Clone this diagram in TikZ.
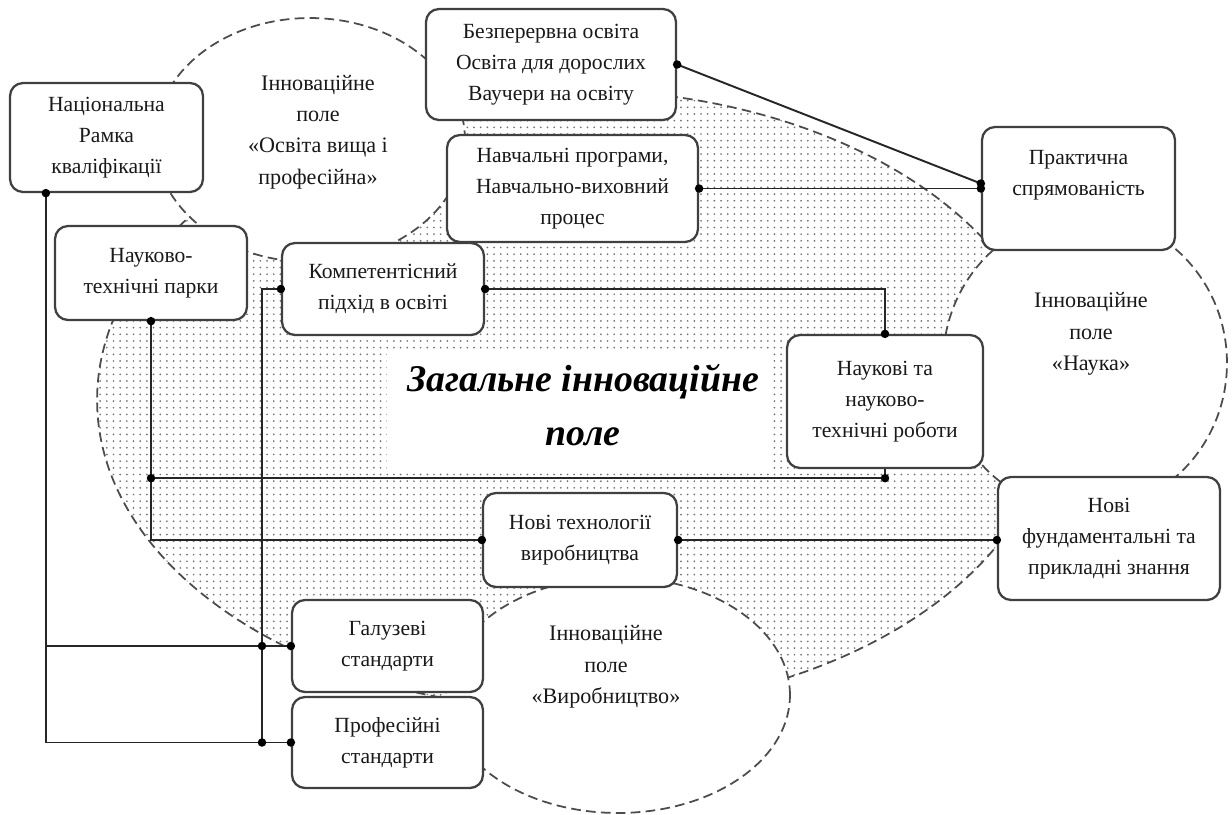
\documentclass[tikz,border=0pt]{standalone}
\usepackage{fontspec}
\setmainfont{Liberation Serif}
\usetikzlibrary{patterns,calc}
\pgfdeclarepatternformonly{fielddots}{\pgfqpoint{-1pt}{-1pt}}{\pgfqpoint{3pt}{3pt}}{\pgfqpoint{3.8pt}{3.8pt}}{\pgfpathcircle{\pgfqpoint{0pt}{0pt}}{0.55pt}\pgfusepath{fill}}
\begin{document}
\begin{tikzpicture}[x=0.02cm,y=-0.02cm,
  box/.style={draw=black!75, line width=1.3pt, rounded corners=0.26cm, fill=white, align=center,
    font=\fontsize{12.3}{17.8}\selectfont, text=black!90, inner sep=2pt},
  conn/.style={draw=black!85, line width=1.1pt},
  field/.style={draw=black!70, line width=1pt, dash pattern=on 5.5pt off 3pt},
  lbl/.style={align=center, font=\fontsize{12.6}{17.8}\selectfont, text=black!90}]
\useasboundingbox (0,0) rectangle (1232,815);
\fill[white] (0,0) rectangle (1232,815);
% fields
\draw[field, pattern=fielddots, pattern color=black!55] (575,400) ellipse [x radius=9.56cm, y radius=6.2cm];
\draw[field, fill=white] (310,140) ellipse [x radius=3.1cm, y radius=2.44cm];
\draw[field, fill=white] (1085,363) ellipse [x radius=2.84cm, y radius=2.96cm];
\draw[field, fill=white] (618,695) ellipse [x radius=3.44cm, y radius=2.36cm];
\fill[white] (387,350) rectangle (773,472);
% labels
\node[lbl] (lo) at (318,132) {Інноваційне\\поле\\«Освіта вища і\\професійна»};
\node[lbl] (ln) at (1091,334) {Інноваційне\\поле\\«Наука»};
\node[lbl] (lv) at (606,667) {Інноваційне\\поле\\«Виробництво»};
\node[align=center, font=\fontsize{21.5}{31}\selectfont\bfseries\itshape] (title) at (583,405) {Загальне інноваційне\\поле};
% boxes
\node[box, minimum width=3.86cm, minimum height=2.18cm] (nrk) at (106.5,137.5) {Національна\\Рамка\\кваліфікації};
\node[box, minimum width=3.84cm, minimum height=1.88cm] (ntp) at (151,273) {Науково-\\технічні парки};
\node[box, minimum width=4.04cm, minimum height=1.84cm] (kpo) at (383,289) {Компетентісний\\підхід в освіті};
\node[box, minimum width=5.0cm, minimum height=2.22cm] (bos) at (551,64.5) {Безперервна освіта\\Освіта для дорослих\\Ваучери на освіту};
\node[box, minimum width=5.02cm, minimum height=2.14cm] (nvp) at (572.5,188.5) {Навчальні програми,\\Навчально-виховний\\процес};
\node[box, minimum width=3.86cm, minimum height=2.46cm] (ps) at (1078.5,188.5) {Практична\\спрямованість\\\mbox{}};
\node[box, minimum width=3.92cm, minimum height=2.66cm] (nnr) at (885,401.5) {Наукові та\\науково-\\технічні роботи};
\node[box, minimum width=4.44cm, minimum height=2.46cm] (nfz) at (1109,538.5) {Нові\\фундаментальні та\\прикладні знання};
\node[box, minimum width=3.88cm, minimum height=1.88cm] (ntv) at (580,540) {Нові технології\\виробництва};
\node[box, minimum width=3.82cm, minimum height=1.84cm] (gs) at (387.5,646) {Галузеві\\стандарти};
\node[box, minimum width=3.82cm, minimum height=1.82cm] (prs) at (387.5,742.5) {Професійні\\стандарти};
% connectors
\coordinate (vx) at (262,0);
\draw[conn] ($(nrk.south west)+(37,0)$) coordinate (a0) |- (prs.west);
\draw[conn] (a0 |- gs.west) -- (gs.west);
\draw[conn] (kpo.west) -| (vx |- prs.west);
\draw[conn] (ntp.south) |- (ntv.west);
\draw[conn] (nnr.south) -- ++(0,9) coordinate (e1) -- (e1 -| ntp.south);
\draw[conn] (kpo.east) -| (nnr.north);
\draw[conn] (bos.east) -- ($(ps.west)+(0,-5)$) coordinate (p1);
\draw[conn] (nvp.east) -- (nvp.east -| ps.west) coordinate (p2);
\draw[conn] (ntv.east) -- (ntv.east -| nfz.west) coordinate (p3);
% dots
\foreach \p in {(a0),(vx |- gs.west),(vx |- prs.west),(gs.west),(prs.west),(kpo.west),(kpo.east),
  (ntp.south),(e1 -| ntp.south),(e1),(ntv.west),(ntv.east),(nnr.north),(bos.east),(p1),(nvp.east),(p2),(p3)}
  \fill[black] \p circle (0.085cm);
\end{tikzpicture}
\end{document}
